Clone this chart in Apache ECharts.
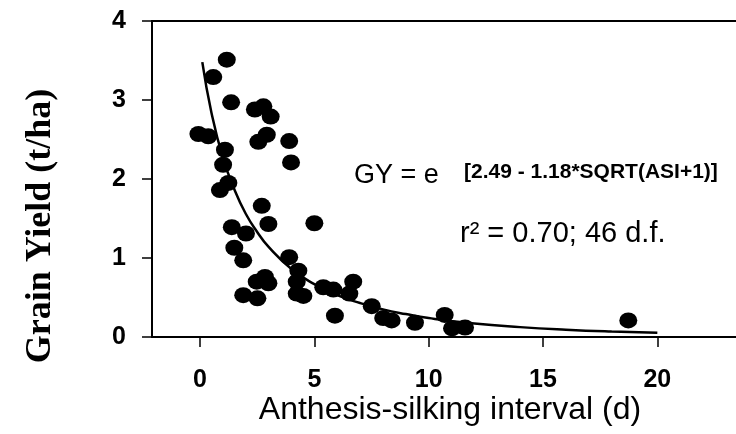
<!DOCTYPE html>
<html>
<head>
<meta charset="utf-8">
<script src="https://cdn.jsdelivr.net/npm/echarts@6/dist/echarts.min.js"></script>
<style>html,body{margin:0;padding:0;background:#fff}#c{width:736px;height:434px}</style>
</head>
<body>
<div id="c"></div>
<script>
// Observed points: anthesis-silking interval (d) and grain yield (t/ha)
var asi = [1.17, 0.58, 1.36, 2.40, 2.77, 3.09, 2.55, 2.92, 3.90, 3.98,
           -0.07, 0.36, 1.09, 1.01, 1.24, 0.87, 2.70, 2.99, 1.39, 2.01,
           1.50, 1.89, 3.90, 5.00, 4.30, 4.23, 4.23, 4.52, 2.48, 2.84,
           2.99, 1.89, 2.51, 5.39, 5.83, 6.70, 6.53, 5.90, 7.51, 8.01,
           8.38, 9.40, 10.70, 11.02, 11.59, 18.73];
var gy  = [3.51, 3.29, 2.97, 2.88, 2.92, 2.79, 2.47, 2.56, 2.48, 2.21,
           2.57, 2.54, 2.37, 2.18, 1.95, 1.86, 1.66, 1.43, 1.39, 1.31,
           1.13, 0.97, 1.01, 1.44, 0.84, 0.70, 0.55, 0.52, 0.70, 0.76,
           0.68, 0.53, 0.49, 0.63, 0.60, 0.70, 0.55, 0.27, 0.39, 0.24,
           0.21, 0.18, 0.28, 0.11, 0.12, 0.21];
// Fitted curve
var curveX = [0.1, 0.5, 1, 1.5, 2, 2.5, 3, 4, 5, 6, 7, 8, 9, 10, 12, 14, 16, 18, 20];
var curveY = [3.48, 2.84, 2.27, 1.87, 1.56, 1.33, 1.14, 0.86, 0.67, 0.53, 0.43, 0.35, 0.29, 0.24, 0.17, 0.125, 0.093, 0.07, 0.054];
var xTicks = [0, 5, 10, 15, 20];
var yTicks = [0, 1, 2, 3, 4];

var pts = asi.map(function (v, i) { return [v, gy[i]]; });
var fit = curveX.map(function (v, i) { return [v, curveY[i]]; });

var chart = echarts.init(document.getElementById('c'), null, {renderer: 'canvas'});
var F = 'Liberation Sans, Arial, sans-serif';
chart.setOption({
  animation: false,
  backgroundColor: '#fff',
  grid: {left: 152, right: 0, top: 21, bottom: 97, containLabel: false},
  xAxis: [{
    type: 'value', min: -2.1, max: 23.44, position: 'bottom',
    splitLine: {show: false},
    axisLine: {show: true, onZero: false, lineStyle: {color: '#000', width: 2}},
    axisTick: {show: true, inside: false, length: 10, customValues: xTicks, lineStyle: {color: '#000', width: 1.5}},
    axisLabel: {show: true, margin: 31, customValues: xTicks, color: '#000', fontSize: 25, fontWeight: 'bold', fontFamily: F}
  }, {
    type: 'value', min: -2.1, max: 23.44, position: 'top',
    splitLine: {show: false},
    axisLine: {show: true, onZero: false, lineStyle: {color: '#000', width: 2}},
    axisTick: {show: false}, axisLabel: {show: false}
  }],
  yAxis: {
    type: 'value', min: 0, max: 4, interval: 1,
    splitLine: {show: false},
    axisLine: {show: true, onZero: false, lineStyle: {color: '#000', width: 2}},
    axisTick: {show: true, length: 10, lineStyle: {color: '#000', width: 1.5}},
    axisLabel: {show: true, margin: 26, color: '#000', fontSize: 25, fontWeight: 'bold', fontFamily: F,
      formatter: function (v) { return yTicks.indexOf(v) >= 0 ? String(v) : ''; }}
  },
  series: [{
    type: 'line', data: fit, xAxisIndex: 0, showSymbol: false, symbol: 'none', smooth: true,
    lineStyle: {color: '#000', width: 2.5}, z: 3
  }, {
    type: 'scatter', data: pts, xAxisIndex: 0, symbol: 'circle', symbolSize: [18, 16],
    itemStyle: {color: '#000', opacity: 1}, z: 4
  }],
  graphic: [
    {type: 'text', left: 354, top: 162, style: {text: 'GY = e', fill: '#000', font: '27px ' + F}},
    {type: 'text', left: 464, top: 162, style: {text: '[2.49 - 1.18*SQRT(ASI+1)]', fill: '#000', font: 'bold 21px ' + F}},
    {type: 'text', left: 460, top: 219, style: {text: 'r² = 0.70; 46 d.f.', fill: '#000', font: '29px ' + F}},
    {type: 'text', x: 450, y: 410, style: {text: 'Anthesis-silking interval (d)', fill: '#000', font: '32px ' + F, align: 'center', verticalAlign: 'middle'}},
    {type: 'text', x: 41, y: 226, rotation: Math.PI / 2, style: {text: 'Grain Yield (t/ha)', fill: '#000', font: 'bold 36px Liberation Serif, Times New Roman, serif', align: 'center', verticalAlign: 'middle'}}
  ]
});
</script>
</body>
</html>
